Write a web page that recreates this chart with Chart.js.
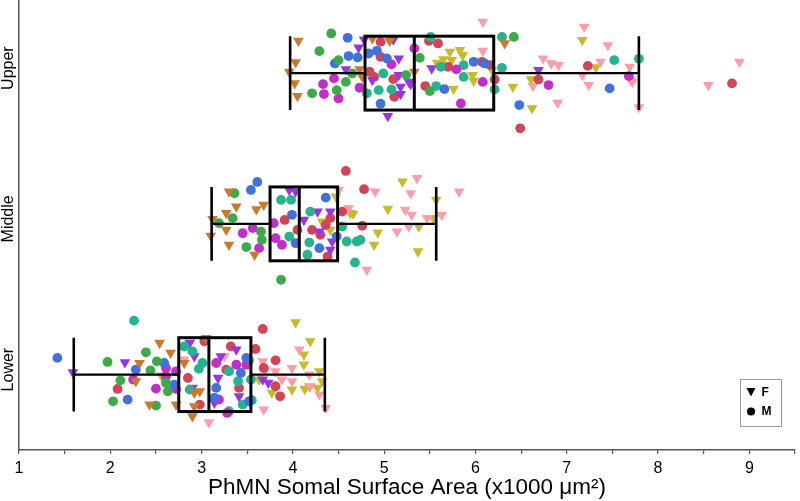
<!DOCTYPE html>
<html><head><meta charset="utf-8">
<script src="https://cdn.jsdelivr.net/npm/chart.js@4.4.0/dist/chart.umd.min.js"></script>
<style>html,body{margin:0;padding:0;background:#fff;}#wrap{width:800px;height:501px;position:relative;}</style>
</head><body><div id="wrap"><canvas id="c" width="800" height="501"></canvas></div>
<script>
// ---------- data: [surface area (x1000 µm²), vertical jitter] ----------
const regions = ['Lower', 'Middle', 'Upper'];
const boxMin    = [1.60, 3.11, 3.97];
const boxQ1     = [2.75, 3.75, 4.79];
const boxMedian = [3.08, 4.07, 5.33];
const boxQ3     = [3.54, 4.49, 6.20];
const boxMax    = [4.35, 5.57, 7.79];
const xTickValues = [1,1.5,2,2.5,3,3.5,4,4.5,5,5.5,6,6.5,7,7.5,8,8.5,9,9.5];
const axisTitle = 'PhMN Somal Surface Area (x1000 \u03BCm\u00B2)';
const legendLabels = ['F', 'M'];

const orangeUpper = [[4.06,0.214],[4.87,0.23],[5.06,0.214],[6.32,0.197],[4.03,0.071],[3.96,0.009],[4.73,0.025],[4.76,-0.025],[5.33,0.009],[4.02,-0.068],[4.05,-0.152]];
const orangeMiddle = [[3.30,0.214],[3.38,0.115],[3.27,0.071],[3.12,0.031],[3.27,-0.04],[3.10,-0.079],[3.30,-0.139],[3.58,-0.205],[3.68,0.126],[3.60,0.097]];
const orangeLower = [[2.54,0.21],[2.66,0.144],[2.32,0.077],[2.28,-0.044],[2.43,-0.199],[2.81,0.077],[2.92,-0.121],[2.90,-0.276],[2.98,-0.111],[2.92,-0.21],[3.05,0.243],[2.72,-0.199]];

const purpleUpper = [[4.78,0.223],[5.10,0.223],[4.72,0.17],[5.16,0.097],[4.58,0.025],[5.52,0.031],[4.87,-0.046],[5.16,-0.013],[5.18,-0.091],[5.18,-0.139],[5.29,-0.073],[5.27,-0.058],[5.04,-0.285],[6.69,0.02]];
const purpleMiddle = [[3.96,0.225],[4.03,0.214],[4.27,0.081],[4.41,0.081],[4.12,0.026],[4.43,-0.117],[4.41,-0.172],[4.29,-0.051]];
const purpleLower = [[1.59,0.015],[2.16,0.081],[2.87,0.21],[2.92,0.121],[3.38,0.166],[3.21,0.121],[3.67,-0.033],[3.73,-0.055],[3.18,-0.022],[3.14,-0.187],[2.90,-0.088],[3.41,-0.144]];

const greenUpper = [[4.42,0.263],[4.29,0.146],[4.50,0.086],[5.39,0.101],[4.65,-0.002],[4.58,-0.058],[5.24,-0.013],[4.21,-0.134],[4.48,-0.113],[5.50,-0.119],[6.42,0.24]];
const greenMiddle = [[3.36,0.203],[3.34,0.038],[3.19,0.005],[3.49,-0.154],[3.66,-0.106],[3.65,-0.051],[3.87,-0.371]];
const greenLower = [[1.97,0.084],[2.11,-0.038],[2.03,-0.177],[2.39,0.148],[2.51,0.088],[2.44,0.028],[2.50,-0.205],[2.61,-0.055],[2.63,-0.111]];

const blueUpper = [[4.60,0.234],[4.61,0.113],[4.71,0.104],[4.83,0.13],[4.92,0.148],[5.03,0.097],[4.46,0.064],[5.98,0.075],[6.10,0.064],[5.66,-0.106],[4.96,-0.203],[6.48,-0.212],[7.47,-0.101]];
const blueMiddle = [[3.61,0.278],[3.54,0.225],[3.99,0.06],[4.36,0.174],[4.29,-0.161],[4.03,-0.128],[4.48,-0.084]];
const blueLower = [[1.42,0.111],[2.19,-0.166],[2.28,0.033],[2.59,0.077],[2.70,-0.066],[3.43,0.011],[3.49,0.111],[3.16,-0.088],[3.14,-0.154],[3.52,-0.177]];

const magentaUpper = [[5.33,0.164],[5.08,0.058],[5.79,0.025],[6.08,-0.058],[4.33,-0.073],[4.34,-0.139],[4.45,-0.035],[4.50,-0.168],[4.73,-0.097],[5.84,-0.201],[6.80,-0.079],[7.68,-0.02]];
const magentaMiddle = [[3.45,-0.062],[3.56,-0.028],[3.63,-0.161],[3.88,-0.139],[3.81,-0.095],[3.79,0.005]];
const magentaLower = [[2.25,-0.033],[2.50,-0.093],[2.61,0.044],[2.72,-0.095],[3.16,0.077],[3.19,-0.166],[3.28,-0.254],[3.38,0.066],[3.49,0.066],[2.61,-0.011],[2.72,0.022]];

const tealUpper = [[5.51,0.24],[6.29,0.24],[6.29,0.035],[4.99,-0.002],[5.62,0.042],[5.87,0.053],[5.87,-0.025],[6.21,-0.108],[4.81,-0.134],[4.94,-0.113],[5.08,-0.108],[5.57,-0.086],[7.52,0.086],[7.79,0.095]];
const tealMiddle = [[3.87,0.159],[3.98,0.159],[4.19,0.081],[3.96,-0.084],[4.16,-0.205],[4.54,-0.018],[4.59,-0.117],[4.70,-0.117],[4.74,-0.106],[4.68,-0.256],[4.18,-0.124]];
const tealLower = [[2.26,0.358],[2.81,0.187],[2.90,0.154],[2.87,-0.099],[2.97,0.038],[3.01,0.077],[3.30,0.022],[3.40,-0.044],[3.52,0.095],[3.54,-0.033],[3.55,-0.17],[3.45,-0.199],[3.30,-0.243]];

const redUpper = [[4.96,0.207],[5.49,0.214],[5.59,0.197],[4.96,0.108],[6.07,0.075],[6.16,0.053],[4.84,0.009],[4.89,-0.025],[5.70,0.042],[6.21,-0.042],[5.10,-0.04],[5.11,-0.157],[5.45,-0.086],[6.69,-0.042],[7.23,0.048],[8.81,-0.068],[6.49,-0.366]];
const redMiddle = [[4.58,0.351],[4.21,-0.04],[4.36,-0.007],[4.30,-0.073],[4.41,0.038],[3.91,0.026],[4.05,-0.04],[4.38,-0.217],[4.54,0.081],[4.78,0.23],[4.76,-0.013]];
const redLower = [[2.08,-0.095],[3.67,0.303],[3.32,0.187],[3.59,0.17],[3.81,0.095],[3.68,0.044],[3.81,-0.077],[3.86,-0.144],[3.27,0.033],[3.41,-0.088],[2.85,-0.022],[2.98,-0.199],[3.03,0.221]];

const pinkUpper = [[6.08,0.34],[6.08,0.148],[7.19,0.307],[7.45,0.185],[6.74,0.097],[6.83,0.064],[6.91,0.053],[7.37,0.075],[7.69,0.042],[8.89,0.075],[6.63,-0.086],[7.17,-0.013],[7.24,-0.079],[7.70,-0.046],[7.72,-0.058],[8.55,-0.079],[6.90,-0.197],[7.79,-0.227]];
const pinkMiddle = [[4.50,0.225],[4.61,0.104],[4.90,0.214],[5.36,0.303],[5.29,0.203],[4.81,-0.305],[5.23,0.093],[5.30,0.06],[5.14,-0.051],[5.27,-0.018],[5.47,0.038],[5.63,0.06],[5.82,0.214],[4.47,-0.084]];
const pinkLower = [[3.25,0.121],[3.67,0.088],[3.70,0.033],[3.81,0.022],[3.99,0.044],[4.07,0.166],[3.88,-0.033],[3.99,-0.044],[4.18,0],[4.19,-0.077],[4.29,-0.132],[3.68,-0.232],[3.08,-0.316],[2.81,0.099],[4.36,-0.221]];

const oliveUpper = [[5.72,0.141],[5.83,0.152],[5.86,0.119],[5.65,0.091],[5.74,0.086],[5.58,0.068],[5.97,-0.013],[5.98,-0.051],[6.18,0.02],[5.76,-0.104],[6.41,-0.091],[7.17,0.219],[7.32,0.038],[6.61,-0.042],[6.62,-0.234]];
const oliveMiddle = [[4.47,0.181],[4.32,0.015],[4.41,-0.04],[4.63,0.071],[4.66,0.066],[5.04,0.099],[4.93,-0.058],[4.89,-0.139],[5.20,0.28],[5.37,-0.183],[5.38,-0.018],[5.57,0.159],[5.54,0.038]];
const oliveLower = [[4.03,0.346],[4.19,0.221],[4.12,0.132],[4.12,0.066],[4.29,0.022],[4.32,-0.044],[4.18,-0.077],[3.99,-0.099],[4.13,-0.095],[3.77,-0.121],[4.27,-0.088],[2.56,-0.007],[3.63,-0.033]];

const animals = [
  {name:'orange',  color:'#C97A2C', sex:'F', sets:[orangeLower, orangeMiddle, orangeUpper]},
  {name:'green',   color:'#3DAA49', sex:'M', sets:[greenLower, greenMiddle, greenUpper]},
  {name:'blue',    color:'#4171DD', sex:'M', sets:[blueLower, blueMiddle, blueUpper]},
  {name:'magenta', color:'#C42DCA', sex:'M', sets:[magentaLower, magentaMiddle, magentaUpper]},
  {name:'teal',    color:'#24B48F', sex:'M', sets:[tealLower, tealMiddle, tealUpper]},
  {name:'purple',  color:'#9C32E6', sex:'F', sets:[purpleLower, purpleMiddle, purpleUpper]},
  {name:'red',     color:'#D24457', sex:'M', sets:[redLower, redMiddle, redUpper]},
  {name:'pink',    color:'#FF9CA7', sex:'F', sets:[pinkLower, pinkMiddle, pinkUpper]},
  {name:'olive',   color:'#C7BB2B', sex:'F', sets:[oliveLower, oliveMiddle, oliveUpper]}
];

const datasets = animals.map(a => {
  const pts = [];
  a.sets.forEach((set, ri) => set.forEach(p => pts.push({x: p[0], y: ri + p[1]})));
  const tri = a.sex === 'F';
  return {
    label: a.name, data: pts,
    backgroundColor: a.color, borderColor: a.color, borderWidth: 0,
    pointStyle: tri ? 'triangle' : 'circle',
    pointRotation: tri ? 180 : 0,
    pointRadius: tri ? 6.2 : 4.9,
    pointHoverRadius: tri ? 6.2 : 4.9
  };
});

const BOX_HALF = 0.245;
const boxPlugin = {
  id: 'boxPlot',
  afterDatasetsDraw(chart) {
    const ctx = chart.ctx, xs = chart.scales.x, ys = chart.scales.y;
    ctx.save();
    ctx.strokeStyle = '#000';
    ctx.lineCap = 'butt';
    regions.forEach((r, i) => {
      const yc = ys.getPixelForValue(i);
      const yt = ys.getPixelForValue(i + BOX_HALF);
      const yb = ys.getPixelForValue(i - BOX_HALF);
      const pMin = xs.getPixelForValue(boxMin[i]);
      const pQ1 = xs.getPixelForValue(boxQ1[i]);
      const pMed = xs.getPixelForValue(boxMedian[i]);
      const pQ3 = xs.getPixelForValue(boxQ3[i]);
      const pMax = xs.getPixelForValue(boxMax[i]);
      ctx.lineWidth = 2.2;
      ctx.beginPath();
      ctx.moveTo(pMin, yc); ctx.lineTo(pQ1, yc);
      ctx.moveTo(pQ3, yc); ctx.lineTo(pMax, yc);
      ctx.stroke();
      ctx.lineWidth = 2.6;
      ctx.beginPath();
      ctx.moveTo(pMin, yt); ctx.lineTo(pMin, yb);
      ctx.moveTo(pMax, yt); ctx.lineTo(pMax, yb);
      ctx.stroke();
      ctx.lineWidth = 3;
      ctx.strokeRect(pQ1, yt, pQ3 - pQ1, yb - yt);
      ctx.beginPath();
      ctx.moveTo(pMed, yt); ctx.lineTo(pMed, yb);
      ctx.stroke();
    });
    ctx.restore();
  },
  afterDraw(chart) {
    const ctx = chart.ctx, ys = chart.scales.y;
    ctx.save();
    ctx.fillStyle = '#000';
    ctx.font = '16px "Liberation Sans", Arial, sans-serif';
    ctx.textAlign = 'center';
    ctx.textBaseline = 'middle';
    regions.forEach((r, i) => {
      const y = ys.getPixelForValue(i) - 5;
      ctx.save();
      ctx.translate(9, y);
      ctx.rotate(-Math.PI / 2);
      ctx.fillText(r, 0, 0);
      ctx.restore();
    });
    ctx.fillStyle = '#fff';
    ctx.fillRect(740.5, 379.5, 41, 47);
    ctx.strokeStyle = '#999';
    ctx.lineWidth = 1;
    ctx.strokeRect(740.5, 379.5, 41, 47);
    ctx.fillStyle = '#000';
    ctx.beginPath();
    ctx.moveTo(746.5, 388); ctx.lineTo(755.5, 388); ctx.lineTo(751, 396.5); ctx.closePath();
    ctx.fill();
    ctx.beginPath();
    ctx.arc(751, 411.5, 4, 0, Math.PI * 2);
    ctx.fill();
    ctx.font = 'bold 12px "Liberation Sans", Arial, sans-serif';
    ctx.textAlign = 'left';
    ctx.fillText(legendLabels[0], 761.5, 392.5);
    ctx.fillText(legendLabels[1], 761.5, 412);
    ctx.restore();
  }
};

new Chart(document.getElementById('c'), {
  type: 'scatter',
  data: { datasets },
  plugins: [boxPlugin],
  options: {
    responsive: false,
    animation: false,
    events: [],
    layout: { autoPadding: false, padding: { left: 19, right: 0, top: 0, bottom: 0 } },
    plugins: { legend: { display: false }, tooltip: { enabled: false } },
    scales: {
      x: {
        type: 'linear', position: 'bottom', min: 1, max: 9.5,
        afterBuildTicks: s => { s.ticks = xTickValues.map(v => ({ value: v })); },
        afterFit: s => { s.height = 51; },
        ticks: {
          autoSkip: false, maxRotation: 0, minRotation: 0, padding: 5,
          color: '#000',
          font: { family: '"Liberation Sans", Arial, sans-serif', size: 16 },
          callback: v => Number.isInteger(v) ? String(v) : ''
        },
        grid: { display: true, drawOnChartArea: false, drawTicks: true, tickLength: 4, color: '#555', lineWidth: 1.2 },
        border: { display: true, color: '#555', width: 1.5 },
        title: {
          display: true, text: axisTitle, color: '#000',
          font: { family: '"Liberation Sans", Arial, sans-serif', size: 22.5 },
          padding: { top: 0, bottom: 0 }
        }
      },
      y: {
        type: 'linear', min: -0.5, max: 2.485,
        afterFit: s => { s.width = 0; },
        ticks: { display: false },
        grid: { display: false, drawTicks: false },
        border: { display: true, color: '#555', width: 1.5 }
      }
    }
  }
});
</script>
</body></html>
